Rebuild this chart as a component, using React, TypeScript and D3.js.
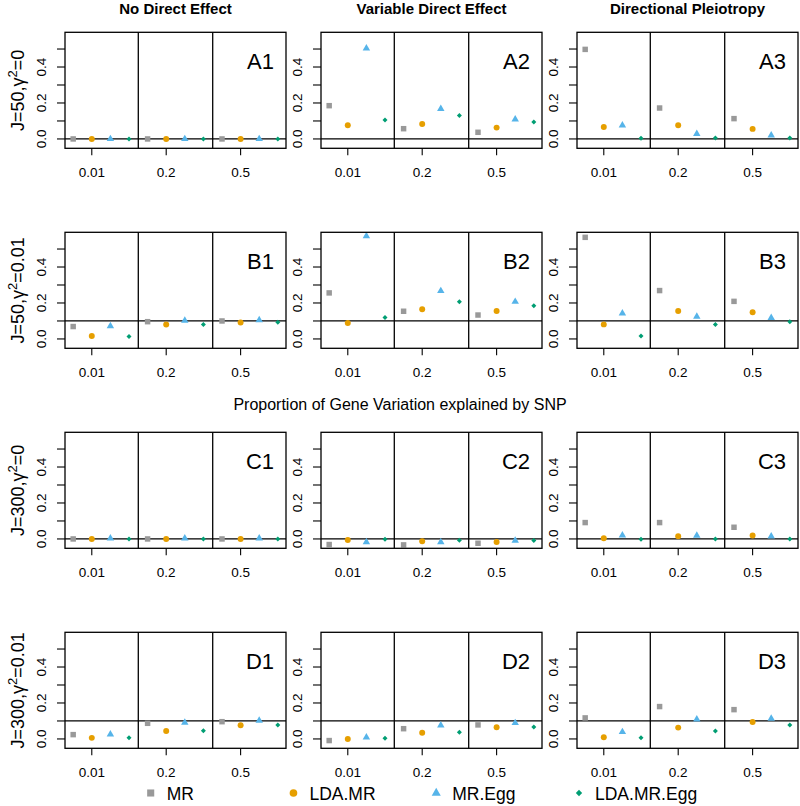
import React from "react";
import * as d3 from "d3";

const methods = ["MR", "LDA.MR", "MR.Egg", "LDA.MR.Egg"];
const methodColors = ["#999999", "#E69F00", "#56B4E9", "#009E73"];
const proportions = ["0.01", "0.2", "0.5"];
const columnTitles = ["No Direct Effect", "Variable Direct Effect", "Directional Pleiotropy"];
const rowLetters = ["A", "B", "C", "D"];
const rowJ = ["50", "50", "300", "300"];
const rowGamma = ["0", "0.01", "0", "0.01"];
const rowRefLine = [0, 0.1, 0, 0.1];
const yTicks = [0, 0.1, 0.2, 0.3, 0.4, 0.5];
const yTickLabels = ["0.0", "", "0.2", "", "0.4", ""];
const xLabel = "Proportion of Gene Variation explained by SNP";

// panels in order A1,A2,A3,B1,...,D3 ; each [p=0.01, 0.2, 0.5]
const mrValues = [
  [0, 0, 0], [0.185, 0.057, 0.037], [0.498, 0.172, 0.113],
  [0.069, 0.096, 0.1], [0.256, 0.154, 0.133], [0.565, 0.269, 0.209],
  [0, 0, 0], [-0.031, -0.033, -0.024], [0.091, 0.091, 0.065],
  [0.024, 0.087, 0.096], [-0.009, 0.057, 0.078], [0.117, 0.18, 0.163],
];
const ldaMrValues = [
  [0, 0, 0], [0.076, 0.083, 0.063], [0.067, 0.076, 0.056],
  [0.017, 0.08, 0.091], [0.089, 0.165, 0.156], [0.081, 0.156, 0.148],
  [0, 0, 0], [-0.006, -0.013, -0.017], [0.004, 0.015, 0.019],
  [0.006, 0.044, 0.076], [0, 0.035, 0.065], [0.009, 0.063, 0.094],
];
const mrEggValues = [
  [0, 0, 0], [0.504, 0.168, 0.109], [0.076, 0.028, 0.02],
  [0.072, 0.102, 0.105], [0.572, 0.267, 0.207], [0.143, 0.124, 0.117],
  [0.004, 0.004, 0.004], [-0.017, -0.017, -0.009], [0.02, 0.019, 0.015],
  [0.026, 0.091, 0.102], [0.009, 0.076, 0.089], [0.039, 0.109, 0.113],
];
const ldaMrEggValues = [
  [0, 0, 0], [0.106, 0.13, 0.094], [0.004, 0.005, 0.005],
  [0.013, 0.08, 0.093], [0.119, 0.207, 0.185], [0.017, 0.081, 0.096],
  [0, 0, 0], [-0.002, -0.007, -0.009], [-0.002, 0, 0],
  [0.006, 0.046, 0.078], [0.004, 0.037, 0.067], [0.006, 0.044, 0.078],
];
const allValues = [mrValues, ldaMrValues, mrEggValues, ldaMrEggValues];

const W = 800;
const H = 806;
const FONT = "'Liberation Sans', Arial, sans-serif";
const colLeft = [65, 321, 577];
const rowTop = [32.3, 232.3, 432.3, 632.3];
const PW = 221;
const PH = 116;

function symbolPath(m: number, big: boolean) {
  const s = big ? [50, 46, 36, 20] : [30, 28, 24, 12.5];
  const types = [d3.symbolSquare, d3.symbolCircle, d3.symbolTriangle, d3.symbolSquare];
  return d3.symbol(types[m], s[m])() as string;
}

function Panel({ r, c }: { r: number; c: number }) {
  const left = colLeft[c];
  const top = rowTop[r];
  const x = d3.scaleLinear().domain([0.56, 12.44]).range([left, left + PW]);
  const y = d3.scaleLinear().domain([-0.052, 0.593]).range([top + PH, top]);
  const pIdx = r * 3 + c;
  const pts: { x: number; y: number; m: number }[] = [];
  methods.forEach((_, m) => {
    proportions.forEach((_, p) => {
      pts.push({ x: x(p * 4 + m + 1), y: y(allValues[m][pIdx][p]), m });
    });
  });
  return (
    <g>
      <line x1={left} x2={left + PW} y1={y(rowRefLine[r])} y2={y(rowRefLine[r])} stroke="#000" strokeWidth={1.3} />
      {[4.5, 8.5].map((d) => (
        <line key={d} x1={x(d)} x2={x(d)} y1={top} y2={top + PH} stroke="#000" strokeWidth={1.3} />
      ))}
      {pts.map((p, i) => (
        <path
          key={i}
          d={symbolPath(p.m, false)}
          transform={`translate(${p.x},${p.y})${p.m === 3 ? " rotate(45)" : ""}`}
          fill={methodColors[p.m]}
        />
      ))}
      <rect x={left} y={top} width={PW} height={PH} fill="none" stroke="#000" strokeWidth={1.3} />
      {yTicks.map((t, i) => (
        <g key={t}>
          <line x1={left - 8} x2={left} y1={y(t)} y2={y(t)} stroke="#000" strokeWidth={1.1} />
          {yTickLabels[i] && (
            <text
              transform={`translate(${left - 19.5},${y(t)}) rotate(-90)`}
              textAnchor="middle"
              fontSize={13.5}
              fontFamily={FONT}
              fill="#000"
            >
              {yTickLabels[i]}
            </text>
          )}
        </g>
      ))}
      {proportions.map((lab, p) => (
        <g key={lab}>
          <line x1={x(p * 4 + 2)} x2={x(p * 4 + 2)} y1={top + PH} y2={top + PH + 7} stroke="#000" strokeWidth={1.1} />
          <text x={x(p * 4 + 2)} y={top + PH + 28.7} textAnchor="middle" fontSize={13.5} fontFamily={FONT} fill="#000">
            {lab}
          </text>
        </g>
      ))}
      <text x={left + 209} y={top + 36.7} textAnchor="end" fontSize={22} fontFamily={FONT} fill="#000">
        {rowLetters[r] + (c + 1)}
      </text>
    </g>
  );
}

export default function App() {
  const legendX = d3.scaleLinear().domain([0, 3]).range([150.7, 579]);
  return (
    <div style={{ position: "absolute", left: 0, top: 0 }}>
      <svg width={W} height={H} style={{ display: "block", background: "#fff" }}>
        <rect width={W} height={H} fill="#fff" />
        {columnTitles.map((t, c) => (
          <text key={t} x={colLeft[c] + PW / 2} y={13.5} textAnchor="middle" fontSize={15} fontWeight="bold" fontFamily={FONT} fill="#000">
            {t}
          </text>
        ))}
        {rowTop.map((_, r) =>
          [0, 1, 2].map((c) => <Panel key={`${r}-${c}`} r={r} c={c} />)
        )}
        {rowTop.map((top, r) => (
          <text
            key={r}
            transform={`translate(23.5,${top + PH / 2}) rotate(-90)`}
            textAnchor="middle"
            fontSize={18}
            fontFamily={FONT}
            fill="#000"
          >
            {`J=${rowJ[r]},γ`}
            <tspan fontSize={13} dy={-7}>2</tspan>
            <tspan dy={7}>{`=${rowGamma[r]}`}</tspan>
          </text>
        ))}
        <text x={400} y={410} textAnchor="middle" fontSize={16} fontFamily={FONT} fill="#000">
          {xLabel}
        </text>
        {methods.map((m, i) => (
          <g key={m}>
            <path
              d={symbolPath(i, true)}
              transform={`translate(${legendX(i)},793)${i === 3 ? " rotate(45)" : ""}`}
              fill={methodColors[i]}
            />
            <text x={legendX(i) + 16} y={799.5} fontSize={17.5} fontFamily={FONT} fill="#000">
              {m}
            </text>
          </g>
        ))}
      </svg>
    </div>
  );
}
